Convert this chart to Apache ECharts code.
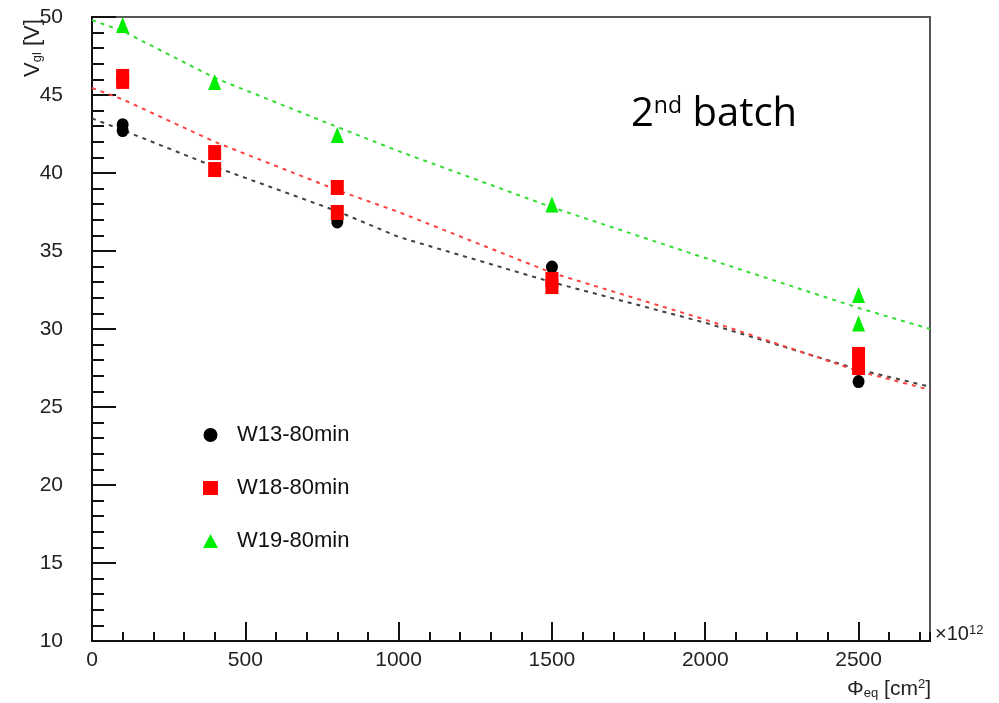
<!DOCTYPE html>
<html>
<head>
<meta charset="utf-8">
<script src="https://cdn.jsdelivr.net/npm/echarts@6/dist/echarts.min.js"></script>
<style>html,body{margin:0;padding:0;background:#fff}#c{width:999px;height:703px}</style>
</head>
<body>
<div id="c"></div>
<script>
// ---- data ----
var xMin = 0, xMax = 2733;
var yMin = 10, yMax = 50;
var names = ['W13-80min', 'W18-80min', 'W19-80min'];
var w13 = [[100, 43.1], [100, 42.72], [800, 36.86], [1500, 33.97], [2500, 26.63]];
var w18 = [[100, 46.19], [100, 45.87], [400, 41.31], [400, 40.22], [800, 39.07], [800, 37.47],
           [1500, 33.17], [1500, 32.72], [2500, 28.37], [2500, 27.53]];
var w19 = [[100, 49.49], [400, 45.83], [800, 42.44], [1500, 37.98], [2500, 32.18], [2500, 30.35]];
var fitX = [0, 100, 400, 800, 1000, 1500, 2000, 2500, 2733];
var fit13 = [43.5, 42.75, 40.4, 37.55, 35.9, 33.0, 30.4, 27.4, 26.3];
var fit18 = [45.45, 44.72, 42.0, 38.9, 37.5, 33.6, 30.6, 27.3, 26.1];
var fit19 = [49.8, 49.1, 46.1, 42.95, 41.4, 37.8, 34.55, 31.35, 30.0];

function pairs(xs, ys) { return xs.map(function (x, i) { return [x, ys[i]]; }); }

var font = 'Liberation Sans, Arial, sans-serif';
var chart = echarts.init(document.getElementById('c'), null, { renderer: 'canvas' });

function fitSeries(name, ys, color) {
  return {
    name: name, type: 'line', data: pairs(fitX, ys), showSymbol: false, symbol: 'none',
    silent: true, smooth: false, z: 1,
    lineStyle: { color: color, width: 2, type: [4, 5] }
  };
}

chart.setOption({
  animation: false,
  backgroundColor: '#fff',
  grid: { left: 92, right: 69, top: 17, bottom: 62, show: true, borderColor: '#555', borderWidth: 2 },
  legend: {
    data: [
      { name: names[0], icon: 'circle' },
      { name: names[1], icon: 'rect' },
      { name: names[2], icon: 'triangle' }
    ],
    orient: 'vertical', left: 198, top: 419, itemGap: 31,
    itemWidth: 15, itemHeight: 14,
    itemStyle: { opacity: 1 },
    textStyle: { fontFamily: font, fontSize: 22, color: '#111', lineHeight: 22, padding: [0, 0, 0, 14] },
    selectedMode: false
  },
  xAxis: [{
    type: 'value', min: xMin, max: xMax, interval: 500, position: 'bottom',
    axisLine: { show: true, onZero: false, lineStyle: { color: '#111', width: 2 } },
    axisTick: { show: true, inside: true, length: 19, lineStyle: { color: '#111', width: 2 } },
    minorTick: { show: false },
    splitLine: { show: false },
    axisLabel: { show: true, showMaxLabel: false, fontFamily: font, fontSize: 21, color: '#222', margin: 9,
      formatter: function (v) { return String(v); } }
  }, {
    type: 'value', min: xMin, max: xMax, interval: 100, position: 'bottom', offset: 0,
    axisLine: { show: false },
    axisTick: { show: true, inside: true, length: 9, lineStyle: { color: '#111', width: 2 } },
    splitLine: { show: false },
    axisLabel: { show: false }
  }],
  yAxis: {
    type: 'value', min: yMin, max: yMax, interval: 5,
    axisLine: { show: true, onZero: false, lineStyle: { color: '#111', width: 2 } },
    axisTick: { show: true, inside: true, length: 24, lineStyle: { color: '#111', width: 2 } },
    minorTick: { show: true, splitNumber: 5, length: 12, lineStyle: { color: '#111', width: 2 } },
    splitLine: { show: false },
    axisLabel: { fontFamily: font, fontSize: 21, color: '#222', margin: 29,
      formatter: function (v) { return String(v); } }
  },
  series: [
    fitSeries('fit13', fit13, '#404040'),
    fitSeries('fit18', fit18, '#ff4040'),
    fitSeries('fit19', fit19, '#33dd33'),
    { name: names[0], type: 'scatter', data: w13, symbol: 'circle', symbolSize: [12, 13],
      itemStyle: { color: '#000', opacity: 1 }, z: 3 },
    { name: names[1], type: 'scatter', data: w18, symbol: 'rect', symbolSize: [13, 15],
      itemStyle: { color: '#ff0000', opacity: 1 }, z: 4 },
    { name: names[2], type: 'scatter', data: w19, symbol: 'triangle', symbolSize: [13, 16],
      itemStyle: { color: '#00ee00', opacity: 1 }, z: 5 }
  ],
  graphic: [
    { type: 'text', x: 631, y: 115, z: 10,
      style: { text: '{a|2}{b|nd}{a| batch}', textVerticalAlign: 'middle',
        rich: {
          a: { fontFamily: 'Open Sans, Lato, sans-serif', fontSize: 40, fill: '#000', verticalAlign: 'bottom' },
          b: { fontFamily: 'Open Sans, Lato, sans-serif', fontSize: 23, fill: '#000', verticalAlign: 'top', padding: [0, 0, 15, 0] }
        } } },
    { type: 'text', x: 33, y: 48, rotation: Math.PI / 2, z: 10,
      style: { text: '{v|V}{s|gl}{v| [V]}', align: 'center', verticalAlign: 'middle',
        rich: {
          v: { fontFamily: font, fontSize: 22, fill: '#222', verticalAlign: 'bottom' },
          s: { fontFamily: font, fontSize: 13, fill: '#222', verticalAlign: 'bottom', padding: [9, 0, 0, 0] }
        } } },
    { type: 'text', x: 931, y: 689, z: 10,
      style: { text: '{v|Φ}{s|eq}{v| [cm}{p|2}{v|]}', align: 'right', verticalAlign: 'middle',
        rich: {
          v: { fontFamily: font, fontSize: 21, fill: '#222', verticalAlign: 'bottom' },
          s: { fontFamily: font, fontSize: 13, fill: '#222', verticalAlign: 'bottom', padding: [9, 0, 0, 0] },
          p: { fontFamily: font, fontSize: 13, fill: '#222', verticalAlign: 'top', padding: [0, 0, 9, 0] }
        } } },
    { type: 'text', x: 935, y: 634, z: 10,
      style: { text: '{v|×10}{p|12}', align: 'left', verticalAlign: 'middle',
        rich: {
          v: { fontFamily: font, fontSize: 20, fill: '#222', verticalAlign: 'bottom' },
          p: { fontFamily: font, fontSize: 13, fill: '#222', verticalAlign: 'top', padding: [0, 0, 8, 0] }
        } } }
  ]
});
</script>
</body>
</html>
